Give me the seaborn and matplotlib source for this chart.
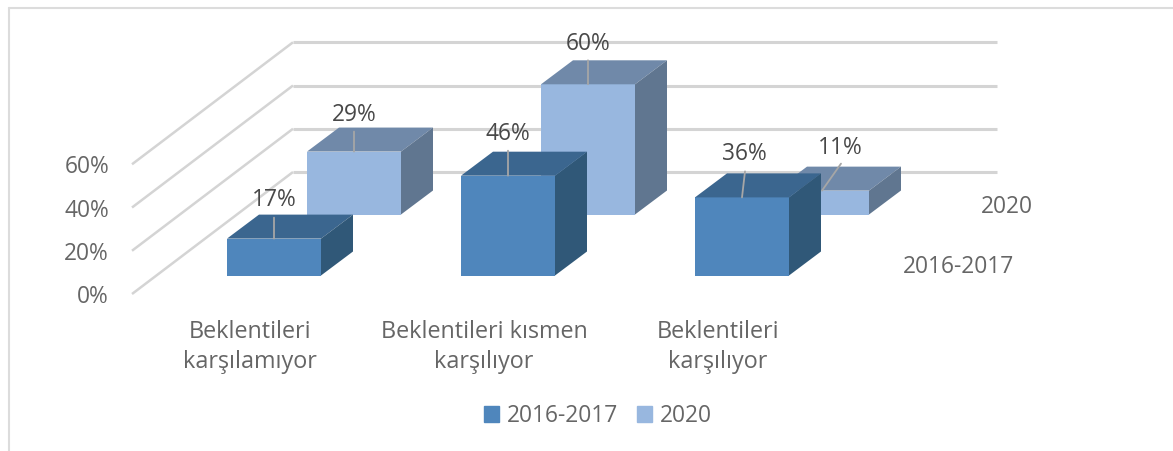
import matplotlib
matplotlib.use("Agg")
import matplotlib.pyplot as plt
import seaborn as sns
from matplotlib.lines import Line2D
from matplotlib.patches import Patch, Polygon
from matplotlib.transforms import ScaledTranslation

# Datos
categorias = ["Beklentileri\nkarşılamıyor", "Beklentileri kısmen\nkarşılıyor", "Beklentileri\nkarşılıyor"]
series = ["2016-2017", "2020"]
valores_2016 = [17, 46, 36]
valores_2020 = [29, 60, 11]
ticks_y = [0, 20, 40, 60]

# Colores: frente, tapa, lado
colores_2016 = ["#4f86bc", "#3b668f", "#305878"]
colores_2020 = ["#98b7df", "#7089a9", "#607690"]
gris_texto = "#666666"
gris_etiqueta = "#484848"
gris_grid = "#d4d4d4"

sns.set_theme(style="white")
plt.rcParams["font.family"] = ["Open Sans", "DejaVu Sans"]
FS = 16.4

W, H = 1173, 451
PX_POR_PCT = 2.17
fig = plt.figure(figsize=(W / 100, H / 100), dpi=100)


def ejes(izq, der, base, arriba):
    # ejes colocados en pixeles de la imagen
    ax = fig.add_axes([izq / W, 1 - base / H, (der - izq) / W, (base - arriba) / H])
    ax.patch.set_visible(False)
    return ax


# Marco
fig.add_artist(Line2D([8.5 / W, 1], [1 - 7.5 / H] * 2, color="#dcdcdc", lw=1.5))
fig.add_artist(Line2D([8.5 / W] * 2, [1 - 7.5 / H, 0], color="#dcdcdc", lw=1.5))

# Pared del fondo: x en pixeles, y en porcentaje
ax_pared = ejes(293, 997, 172, 172 - 60 * 2.162)
ax_pared.set_xlim(0, 704)
ax_pared.set_ylim(0, 60)
ax_pared.hlines(ticks_y, 0, 704, color=gris_grid, lw=2.2, clip_on=False)
for t in ticks_y:
    ax_pared.plot([0, -161], [t, t - 122 / 2.162], color=gris_grid, lw=1.8, clip_on=False, solid_capstyle="butt")
ax_pared.set_xticks([])
ax_pared.set_yticks(ticks_y, [f"{t}%" for t in ticks_y])
ax_pared.tick_params(axis="y", length=0, pad=0, labelsize=FS, labelcolor=gris_texto)
desp_y = ScaledTranslation(-184 / 100, -122 / 100, fig.dpi_scale_trans)
for lab in ax_pared.get_yticklabels():
    lab.set_transform(lab.get_transform() + desp_y)
sns.despine(ax=ax_pared, left=True, bottom=True)


def barras_3d(ax, valores, colores, etiquetas):
    sns.barplot(x=categorias, y=valores, color=colores[0], saturation=1, width=94 / 234, linewidth=0, ax=ax)
    ax.set_xlim(-0.5, 2.5)
    ax.set_ylim(0, 60)
    ddx = 32 / 234
    ddy = 24 / PX_POR_PCT
    for bar, val, (lx, ly, tx, ty) in zip(ax.patches, valores, etiquetas):
        x0, x1 = bar.get_x(), bar.get_x() + bar.get_width()
        h = bar.get_height()
        ax.add_patch(Polygon([(x0, h), (x1, h), (x1 + ddx, h + ddy), (x0 + ddx, h + ddy)],
                             facecolor=colores[1], edgecolor="none", clip_on=False))
        ax.add_patch(Polygon([(x1, 0), (x1 + ddx, ddy), (x1 + ddx, h + ddy), (x1, h)],
                             facecolor=colores[2], edgecolor="none", clip_on=False))
        xc = (x0 + x1) / 2
        ax.annotate("", xy=(xc, h), xytext=(lx, ly), textcoords="offset pixels", annotation_clip=False,
                    arrowprops=dict(arrowstyle="-", color="#a6a6a6", lw=1.3, shrinkA=0, shrinkB=0))
        ax.annotate(f"{val}%", xy=(xc, h), xytext=(tx, ty), textcoords="offset pixels", annotation_clip=False,
                    ha="center", va="center", fontsize=FS, color=gris_etiqueta)


# Serie de atras
ax_atras = ejes(237, 939, 214.5, 214.5 - 60 * PX_POR_PCT)
barras_3d(ax_atras, valores_2020, colores_2020,
          [(0, 20, 0, 37), (0, 24, 0, 40), (19, 27, 18, 43)])
ax_atras.axis("off")

# Serie de adelante
ax_frente = ejes(157, 859, 275.5, 275.5 - 60 * PX_POR_PCT)
barras_3d(ax_frente, valores_2016, colores_2016,
          [(0, 21, 0, 39), (0, 25, 0, 42), (3, 26, 2, 43)])
ax_frente.set_yticks([])
ax_frente.tick_params(axis="x", length=0, pad=32, labelsize=16.8, labelcolor=gris_texto)
desp_x = ScaledTranslation(-24 / 100, 0, fig.dpi_scale_trans)
for lab in ax_frente.get_xticklabels():
    lab.set_transform(lab.get_transform() + desp_x)
    lab.set_linespacing(1.33)
sns.despine(ax=ax_frente, left=True, bottom=True)

# Nombres de las series en el eje de profundidad
fig.text(1033 / W, 1 - 207 / H, series[1], ha="right", va="center", fontsize=FS, color=gris_texto)
fig.text(1014 / W, 1 - 267 / H, series[0], ha="right", va="center", fontsize=FS, color=gris_texto)

# Leyenda
fig.legend(handles=[Patch(color=colores_2016[0], label=series[0]), Patch(color=colores_2020[0], label=series[1])],
           loc="center", bbox_to_anchor=(598 / W, 1 - 416 / H), ncol=2, frameon=False, fontsize=FS,
           labelcolor=gris_texto, handlelength=0.66, handleheight=0.66, handletextpad=0.35, columnspacing=0.8)

plt.savefig("out.png", dpi=100)
